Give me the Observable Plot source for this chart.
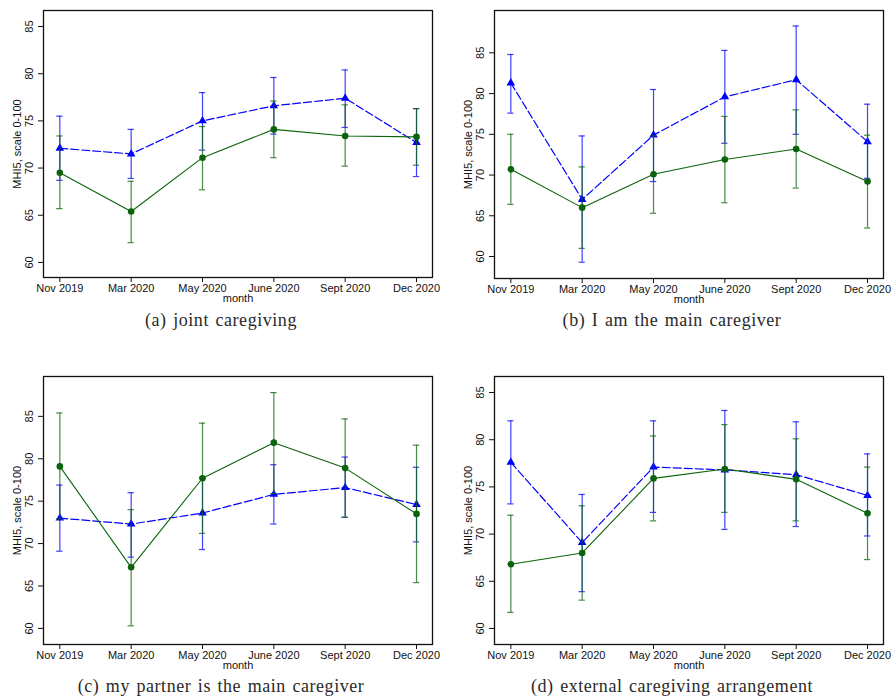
<!DOCTYPE html>
<html>
<head>
<meta charset="utf-8">
<script src="https://cdn.jsdelivr.net/npm/d3@7"></script>
<script src="https://cdn.jsdelivr.net/npm/@observablehq/plot@0.6"></script>
<style>
  body { margin: 0; background: #fff; }
  #wrap { position: relative; width: 893px; height: 700px; background: #fff; overflow: hidden; }
  .panel { position: absolute; }
  .cap { position: absolute; width: 420px; text-align: center; font-family: "Liberation Serif", "DejaVu Serif", serif; font-size: 18px; letter-spacing: 0.55px; word-spacing: 1.5px; line-height: 20px; color: #2a2a2a; white-space: nowrap; }
</style>
</head>
<body>
<div id="wrap"></div>
<script>
const months = ["Nov 2019", "Mar 2020", "May 2020", "June 2020", "Sept 2020", "Dec 2020"];
const captions = ["(a) joint caregiving", "(b) I am the main caregiver", "(c) my partner is the main caregiver", "(d) external caregiving arrangement"];
const yTicks = [60, 65, 70, 75, 80, 85];
const yLabel = "MHI5, scale 0-100";
const xLabel = "month";

// (a) joint caregiving
const aGreen   = [69.5, 65.4, 71.1, 74.1, 73.4, 73.3];
const aGreenLo = [65.7, 62.1, 67.7, 71.1, 70.2, 70.3];
const aGreenHi = [73.4, 68.6, 74.4, 77.1, 76.7, 76.3];
const aBlue    = [72.1, 71.5, 75.0, 76.6, 77.4, 72.7];
const aBlueLo  = [68.7, 68.9, 71.9, 73.6, 74.3, 69.1];
const aBlueHi  = [75.5, 74.1, 78.0, 79.6, 80.4, 76.3];

// (b) I am the main caregiver
const bGreen   = [70.7, 66.0, 70.1, 71.9, 73.2, 69.2];
const bGreenLo = [66.4, 61.0, 65.3, 66.6, 68.4, 63.5];
const bGreenHi = [75.0, 71.0, 74.8, 77.2, 78.0, 74.9];
const bBlue    = [81.3, 67.0, 74.9, 79.6, 81.7, 74.1];
const bBlueLo  = [77.6, 59.3, 69.2, 73.9, 75.0, 69.6];
const bBlueHi  = [84.8, 74.8, 80.5, 85.3, 88.3, 78.7];

// (c) my partner is the main caregiver
const cGreen   = [79.1, 67.2, 77.7, 81.9, 78.9, 73.5];
const cGreenLo = [72.9, 60.3, 71.2, 75.9, 73.1, 65.4];
const cGreenHi = [85.4, 74.0, 84.2, 87.8, 84.7, 81.6];
const cBlue    = [73.0, 72.3, 73.6, 75.8, 76.6, 74.6];
const cBlueLo  = [69.1, 68.4, 69.3, 72.3, 73.1, 70.2];
const cBlueHi  = [76.9, 76.0, 77.8, 79.3, 80.2, 79.0];

// (d) external caregiving arrangement
const dGreen   = [66.8, 68.0, 75.9, 76.9, 75.8, 72.2];
const dGreenLo = [61.7, 63.0, 71.4, 72.3, 71.4, 67.3];
const dGreenHi = [72.0, 73.0, 80.4, 81.6, 80.1, 77.1];
const dBlue    = [77.6, 69.1, 77.1, 76.8, 76.3, 74.1];
const dBlueLo  = [73.2, 63.9, 72.3, 70.5, 70.8, 69.8];
const dBlueHi  = [82.0, 74.2, 82.0, 83.1, 81.9, 78.5];

// y-axis extents per panel
const yDomains = [[58.4, 86.7], [57.3, 90.2], [58.1, 89.7], [58.3, 86.7]];

const GREEN = "#0b640b";
const BLUE = "#0000ff";
const CAP = 0.044;

function makePanel(k, g, gl, gh, b, bl, bh, layout) {
  const rows = months.map((m, i) => ({i, g: g[i], gl: gl[i], gh: gh[i], b: b[i], bl: bl[i], bh: bh[i]}));
  const chart = Plot.plot({
    width: layout.width,
    height: layout.height,
    marginLeft: layout.ml,
    marginRight: layout.mr,
    marginTop: layout.mt,
    marginBottom: layout.mb,
    style: {fontFamily: "'Liberation Sans', Arial, sans-serif", fontSize: "11px", color: "#111", background: "white", overflow: "visible"},
    x: {type: "linear", domain: [-0.229, 5.224], ticks: d3.range(months.length), tickFormat: i => months[i], tickSize: 5, tickPadding: 2, label: null},
    y: {domain: yDomains[k], ticks: yTicks, tickFormat: () => "", tickSize: 5, tickPadding: 0, label: null},
    marks: [
      Plot.frame({stroke: "#111", strokeWidth: 1.3}),
      // blue series
      Plot.ruleX(rows, {x: "i", y1: "bl", y2: "bh", stroke: BLUE, strokeWidth: 1.2, strokeOpacity: 0.75}),
      Plot.ruleY(rows, {y: "bl", x1: r => r.i - CAP, x2: r => r.i + CAP, stroke: BLUE, strokeWidth: 1.2, strokeOpacity: 0.75}),
      Plot.ruleY(rows, {y: "bh", x1: r => r.i - CAP, x2: r => r.i + CAP, stroke: BLUE, strokeWidth: 1.2, strokeOpacity: 0.75}),
      Plot.line(rows, {x: "i", y: "b", stroke: BLUE, strokeWidth: 1.2, strokeDasharray: "8,3"}),
      Plot.dot(rows, {x: "i", y: "b", symbol: "triangle", fill: BLUE, r: 3.2}),
      // green series
      Plot.ruleX(rows, {x: "i", y1: "gl", y2: "gh", stroke: GREEN, strokeWidth: 1.2, strokeOpacity: 0.75}),
      Plot.ruleY(rows, {y: "gl", x1: r => r.i - CAP, x2: r => r.i + CAP, stroke: GREEN, strokeWidth: 1.2, strokeOpacity: 0.75}),
      Plot.ruleY(rows, {y: "gh", x1: r => r.i - CAP, x2: r => r.i + CAP, stroke: GREEN, strokeWidth: 1.2, strokeOpacity: 0.75}),
      Plot.line(rows, {x: "i", y: "g", stroke: GREEN, strokeWidth: 1.1}),
      Plot.dot(rows, {x: "i", y: "g", fill: GREEN, r: 3.3}),
      // rotated y tick labels
      Plot.text(yTicks, {y: d => d, text: d => String(d), frameAnchor: "left", dx: -14, rotate: -90, textAnchor: "middle", fill: "#111", fontSize: 11}),
      // axis titles
      Plot.text([yLabel], {text: d => d, frameAnchor: "left", dx: -26, rotate: -90, textAnchor: "middle", fill: "#111", fontSize: 11}),
      Plot.text([xLabel], {text: d => d, frameAnchor: "bottom", dy: 24, textAnchor: "middle", fill: "#111", fontSize: 11})
    ]
  });
  const div = document.createElement("div");
  div.className = "panel";
  div.style.left = layout.left + "px";
  div.style.top = layout.top + "px";
  div.appendChild(chart);
  document.getElementById("wrap").appendChild(div);

  const cap = document.createElement("div");
  cap.className = "cap";
  cap.textContent = captions[k];
  cap.style.left = (layout.capX - 210) + "px";
  cap.style.top = (layout.capY - 10) + "px";
  document.getElementById("wrap").appendChild(cap);
}

makePanel(0, aGreen, aGreenLo, aGreenHi, aBlue, aBlueLo, aBlueHi,
  {left: 0, top: 0, width: 446, height: 310, ml: 43, mr: 14, mt: 10, mb: 33, capX: 221, capY: 320});
makePanel(1, bGreen, bGreenLo, bGreenHi, bBlue, bBlueLo, bBlueHi,
  {left: 446, top: 0, width: 447, height: 310, ml: 48, mr: 10, mt: 10, mb: 32, capX: 672, capY: 320});
makePanel(2, cGreen, cGreenLo, cGreenHi, cBlue, cBlueLo, cBlueHi,
  {left: 0, top: 366, width: 446, height: 310, ml: 43, mr: 14, mt: 10, mb: 32, capX: 221, capY: 686});
makePanel(3, dGreen, dGreenLo, dGreenHi, dBlue, dBlueLo, dBlueHi,
  {left: 446, top: 366, width: 447, height: 310, ml: 48, mr: 10, mt: 10, mb: 32, capX: 672, capY: 686});
</script>
</body>
</html>
